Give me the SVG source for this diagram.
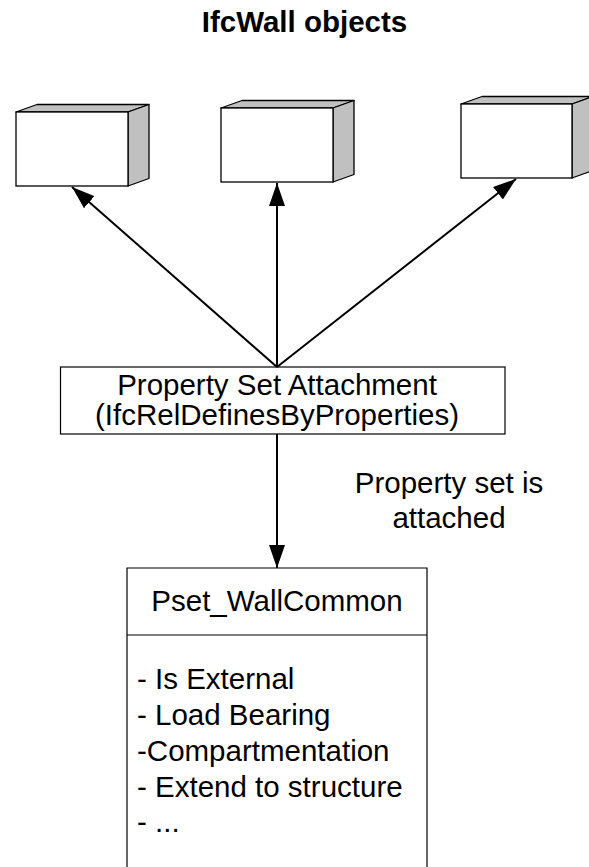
<svg xmlns="http://www.w3.org/2000/svg" width="589" height="867" viewBox="0 0 589 867">
<style>
text{font-family:"Liberation Sans",Arial,sans-serif;font-size:29.5px;fill:#000}
.title{font-weight:bold}
.c{text-anchor:middle}
.front{fill:#fff;stroke:#000;stroke-width:1.3}
.side{fill:#c0c0c0;stroke:#000;stroke-width:1.3;stroke-linejoin:round}
.box{fill:#fff;stroke:#000;stroke-width:1.2}
.conn{stroke:#000;stroke-width:2;fill:none;marker-end:url(#ah)}
</style>
<defs>
<marker id="ah" markerUnits="userSpaceOnUse" markerWidth="24" markerHeight="16" refX="23" refY="8" orient="auto">
<path d="M0,0 L23,8 L0,16 Z" fill="#000"/>
</marker>
</defs>
<rect width="589" height="867" fill="#fff"/>
<text class="title c" x="304.5" y="32">IfcWall objects</text>
<g id="wall1">
<polygon class="side" points="16,112 37,104.5 149,104.5 128,112"/>
<polygon class="side" points="128,112 149,104.5 149,178.5 128,186"/>
<rect class="front" x="16" y="112" width="112" height="74"/>
</g>
<g id="wall2">
<polygon class="side" points="221,108 242,100.5 354,100.5 333,108"/>
<polygon class="side" points="333,108 354,100.5 354,174.5 333,182"/>
<rect class="front" x="221" y="108" width="112" height="74"/>
</g>
<g id="wall3">
<polygon class="side" points="461,104 482,96.5 593,96.5 572,104"/>
<polygon class="side" points="572,104 593,96.5 593,170.5 572,178"/>
<rect class="front" x="461" y="104" width="111" height="74"/>
</g>
<g id="attachment">
<rect class="box" x="60.5" y="367" width="444.5" height="67"/>
<text class="c" x="277" y="395">Property Set Attachment</text>
<text class="c" x="277" y="425">(IfcRelDefinesByProperties)</text>
</g>
<g id="pset">
<path d="M127,867 V568 H427 V867" fill="#fff" stroke="#000" stroke-width="1.2"/>
<line x1="127" y1="635" x2="427" y2="635" stroke="#000" stroke-width="1.2"/>
<text class="c" x="277" y="611">Pset_WallCommon</text>
<text x="137" y="689">- Is External</text>
<text x="137" y="725">- Load Bearing</text>
<text x="137" y="761">-Compartmentation</text>
<text x="137" y="797">- Extend to structure</text>
<text x="137" y="832">- ...</text>
</g>
<g id="connectors">
<line class="conn" x1="277" y1="367" x2="72" y2="187"/>
<line class="conn" x1="277" y1="367" x2="277" y2="183"/>
<line class="conn" x1="277" y1="367" x2="516" y2="179"/>
<line class="conn" x1="277" y1="434" x2="277" y2="568"/>
<text class="c" x="449" y="493">Property set is</text>
<text class="c" x="449" y="528">attached</text>
</g>
</svg>
